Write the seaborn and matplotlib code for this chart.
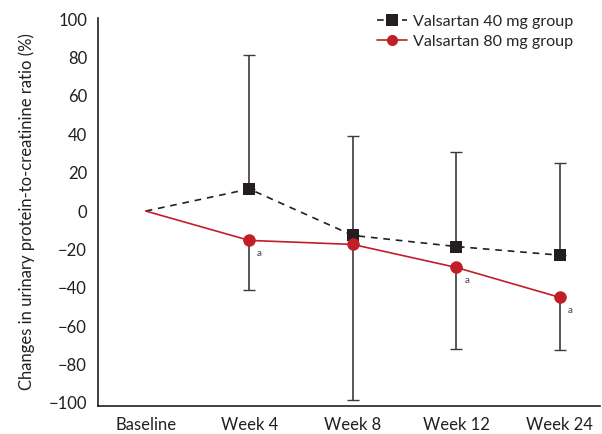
import numpy as np
import pandas as pd
import matplotlib
matplotlib.use("Agg")
import matplotlib.pyplot as plt
import seaborn as sns

weeks = ["Baseline", "Week 4", "Week 8", "Week 12", "Week 24"]
group_names = ["Valsartan 40 mg group", "Valsartan 80 mg group"]

val40 = [0, 11.5, -12.7, -18.5, -23]
val80 = [0, -15.3, -17.4, -29.4, -45]
# error bars: 40 mg drawn upward, 80 mg drawn downward
err40_up = [0, 70, 52, 49.5, 48]
err80_down = [0, 26, 81, 42.5, 27.5]
# significance marks on the 80 mg group
sig80 = ["", "a", "", "a", "a"]

df = pd.DataFrame({
    "week": weeks * 2,
    "pos": list(range(len(weeks))) * 2,
    "change": val40 + val80,
    "group": [group_names[0]] * len(weeks) + [group_names[1]] * len(weeks),
})

sns.set_style("white")
plt.rcParams["font.family"] = ["Lato", "DejaVu Sans"]

black = "#231f20"
red = "#c01f2a"

fig = plt.figure(figsize=(6.02, 4.34), dpi=100)
ax = fig.add_axes([0.163, 0.065, 0.834, 0.893])

x = np.arange(len(weeks))
ax.errorbar(x[1:], val40[1:], yerr=[np.zeros(4), err40_up[1:]], fmt="none",
            ecolor="#3a3a3a", elinewidth=1.2, capsize=4, capthick=1.0, zorder=1)
ax.errorbar(x[1:], val80[1:], yerr=[err80_down[1:], np.zeros(4)], fmt="none",
            ecolor="#3a3a3a", elinewidth=1.2, capsize=4, capthick=1.0, zorder=1)

# no marker at baseline
sns.lineplot(data=df, x="pos", y="change", hue="group", style="group",
             palette={group_names[0]: black, group_names[1]: red},
             markers={group_names[0]: "s", group_names[1]: "o"},
             dashes={group_names[0]: (4, 3.5), group_names[1]: ""},
             markersize=9, markeredgewidth=0, linewidth=1.2, ax=ax, zorder=3,
             markevery=[1, 2, 3, 4])

for i, s in enumerate(sig80):
    if s:
        ax.text(x[i] + 0.1, val80[i] - 7, s, fontsize=7, color="#444444",
                ha="center", va="center")

ax.set_xlim(-0.46, 4.39)
ax.set_ylim(-101.5, 100.5)
ax.set_yticks(range(-100, 101, 20))
ax.set_xticks(x)
ax.set_xticklabels(weeks)
ax.set_xlabel("")
ax.set_ylabel("Changes in urinary protein-to-creatinine ratio (%)", fontsize=12,
              color="#231f20", labelpad=10)
ax.tick_params(axis="both", length=0, labelsize=12, colors="#231f20", pad=8)
for side in ["top", "right"]:
    ax.spines[side].set_visible(False)
for side in ["left", "bottom"]:
    ax.spines[side].set_color("#231f20")
    ax.spines[side].set_linewidth(1.2)

handles, labels = ax.get_legend_handles_labels()
for h in handles:
    h.set_markevery(None)
    h.set_markersize(8)
ax.legend(handles, labels, loc="upper left", bbox_to_anchor=(0.626, 0.967),
          bbox_transform=fig.transFigure, frameon=False, borderaxespad=0,
          borderpad=0, fontsize=11.6, handlelength=1.9, labelspacing=0.35,
          handletextpad=0.35)

fig.savefig("out.png", dpi=100)
